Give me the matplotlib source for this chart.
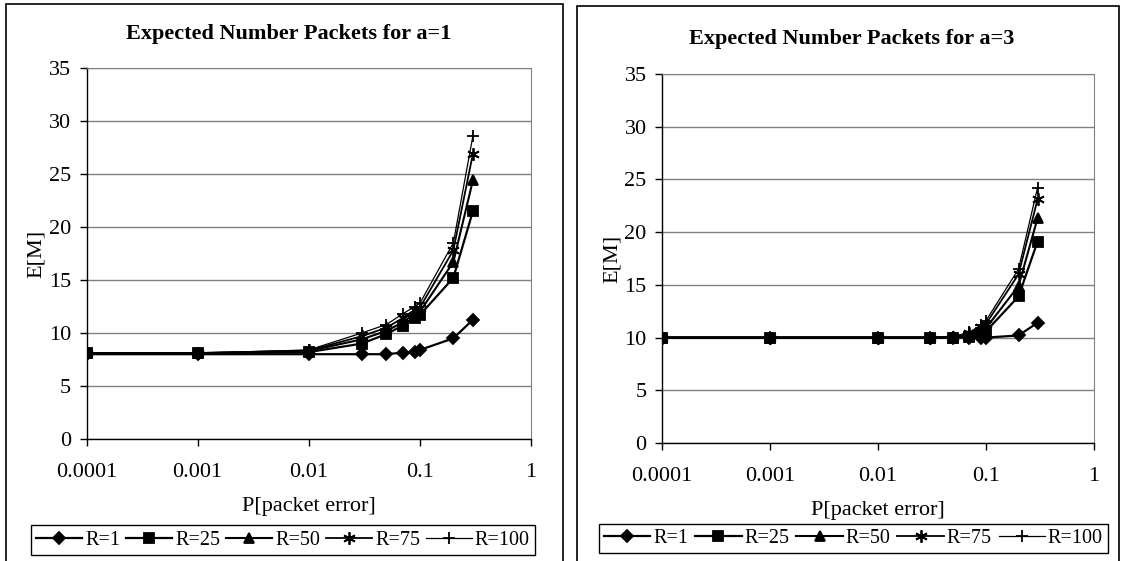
import matplotlib
matplotlib.use('Agg')
import matplotlib.pyplot as plt
from matplotlib.patches import Rectangle
from matplotlib.ticker import FixedLocator, FixedFormatter, NullLocator

plt.rcParams['font.family'] = ['Liberation Serif', 'DejaVu Serif']

# packet error probabilities
p_err = [0.0001, 0.001, 0.01, 0.03, 0.05, 0.07, 0.09, 0.1, 0.2, 0.3]
r_labels = ['R=1', 'R=25', 'R=50', 'R=75', 'R=100']

# expected number of packets, a=1
a1_r1 = [8.0, 8.0, 8.0, 8.0, 8.0, 8.15, 8.2, 8.4, 9.5, 11.25]
a1_r25 = [8.1, 8.1, 8.2, 9.0, 9.9, 10.7, 11.4, 11.7, 15.2, 21.5]
a1_r50 = [8.1, 8.1, 8.3, 9.4, 10.2, 11.0, 11.8, 12.0, 16.7, 24.4]
a1_r75 = [8.1, 8.1, 8.35, 9.7, 10.5, 11.4, 12.2, 12.4, 17.8, 26.9]
a1_r100 = [8.1, 8.1, 8.4, 10.0, 10.8, 11.8, 12.5, 12.8, 18.5, 28.6]

# expected number of packets, a=3
a3_r1 = [10.0, 10.0, 10.0, 10.0, 10.0, 10.0, 10.0, 10.0, 10.2, 11.4]
a3_r25 = [10.0, 10.0, 10.0, 10.0, 10.0, 10.1, 10.4, 10.6, 13.9, 19.1]
a3_r50 = [10.0, 10.0, 10.0, 10.0, 10.0, 10.2, 10.7, 10.9, 14.9, 21.3]
a3_r75 = [10.0, 10.0, 10.0, 10.0, 10.1, 10.4, 11.0, 11.3, 16.0, 23.1]
a3_r100 = [10.0, 10.0, 10.0, 10.0, 10.1, 10.5, 11.2, 11.6, 16.5, 24.2]

markers = ['D', 's', '^', (6, 2, 0), '+']
msizes = [6, 7, 7, 9, 9]
lwidths = [1.6, 1.6, 1.5, 1.3, 0.9]

W, H = 1121, 561
fig = plt.figure(figsize=(W / 100, H / 100), dpi=100)


def fx(px):
    return px / W


def fy(py):
    return 1 - py / H


def draw_chart(rect, title, series, frame, leg_box, title_y):
    # outer chart border
    fig.patches.append(Rectangle((fx(frame[0]), fy(frame[3])),
                                 fx(frame[2] - frame[0]), (frame[3] - frame[1]) / H,
                                 transform=fig.transFigure, fill=False,
                                 edgecolor='black', lw=1.2))
    ax = fig.add_axes(rect)
    lines = []
    for ys, lab, m, ms, lw in zip(series, r_labels, markers, msizes, lwidths):
        ln, = ax.plot(p_err, ys, color='black', marker=m, markersize=ms,
                      lw=lw, mew=1.3, label=lab)
        lines.append(ln)
    ax.set_xscale('log')
    ax.set_xlim(0.0001, 1)
    ax.set_ylim(0, 35)
    ax.xaxis.set_major_locator(FixedLocator([0.0001, 0.001, 0.01, 0.1, 1]))
    ax.xaxis.set_major_formatter(FixedFormatter(['0.0001', '0.001', '0.01', '0.1', '1']))
    ax.xaxis.set_minor_locator(NullLocator())
    ax.set_yticks(range(0, 36, 5))
    ax.yaxis.grid(True, color='#808080', lw=1.0)
    ax.set_axisbelow(True)
    for s in ['top', 'right']:
        ax.spines[s].set_color('#808080')
    for s in ['left', 'bottom']:
        ax.spines[s].set_color('black')
        ax.spines[s].set_linewidth(1.0)
    ax.tick_params(axis='both', direction='out', length=5, width=1.0,
                   labelsize=16)
    ax.tick_params(axis='x', pad=12)
    ax.tick_params(axis='y', pad=6)
    ax.set_xlabel('P[packet error]', fontsize=16, labelpad=11)
    ax.set_ylabel('E[M]', fontsize=16, labelpad=2)
    fig.text(fx((frame[0] + frame[2]) / 2 + 4), fy(title_y), title,
             ha='center', va='center', fontsize=16, fontweight='bold')
    # legend in a box along the bottom
    fig.legend(handles=lines, loc='center',
               bbox_to_anchor=(fx(leg_box[0]), fy(leg_box[3]),
                               fx(leg_box[2] - leg_box[0]), (leg_box[3] - leg_box[1]) / H),
               bbox_transform=fig.transFigure, ncol=5, mode='expand',
               frameon=True, fancybox=False, edgecolor='black', framealpha=1,
               fontsize=14.5, handlelength=2.3, handletextpad=0.15,
               columnspacing=0.4, borderpad=0.25)
    return ax


draw_chart([fx(86.5), fy(439), fx(531 - 86.5), (439 - 68) / H],
           'Expected Number Packets for a=1',
           [a1_r1, a1_r25, a1_r50, a1_r75, a1_r100],
           (6, 4, 563, 570), (21, 524, 545, 556), 34)

draw_chart([fx(662), fy(443), fx(1094 - 662), (443 - 74) / H],
           'Expected Number Packets for a=3',
           [a3_r1, a3_r25, a3_r50, a3_r75, a3_r100],
           (577, 6, 1119, 570), (589, 522, 1118, 555), 39)

fig.savefig('out.png', dpi=100)
